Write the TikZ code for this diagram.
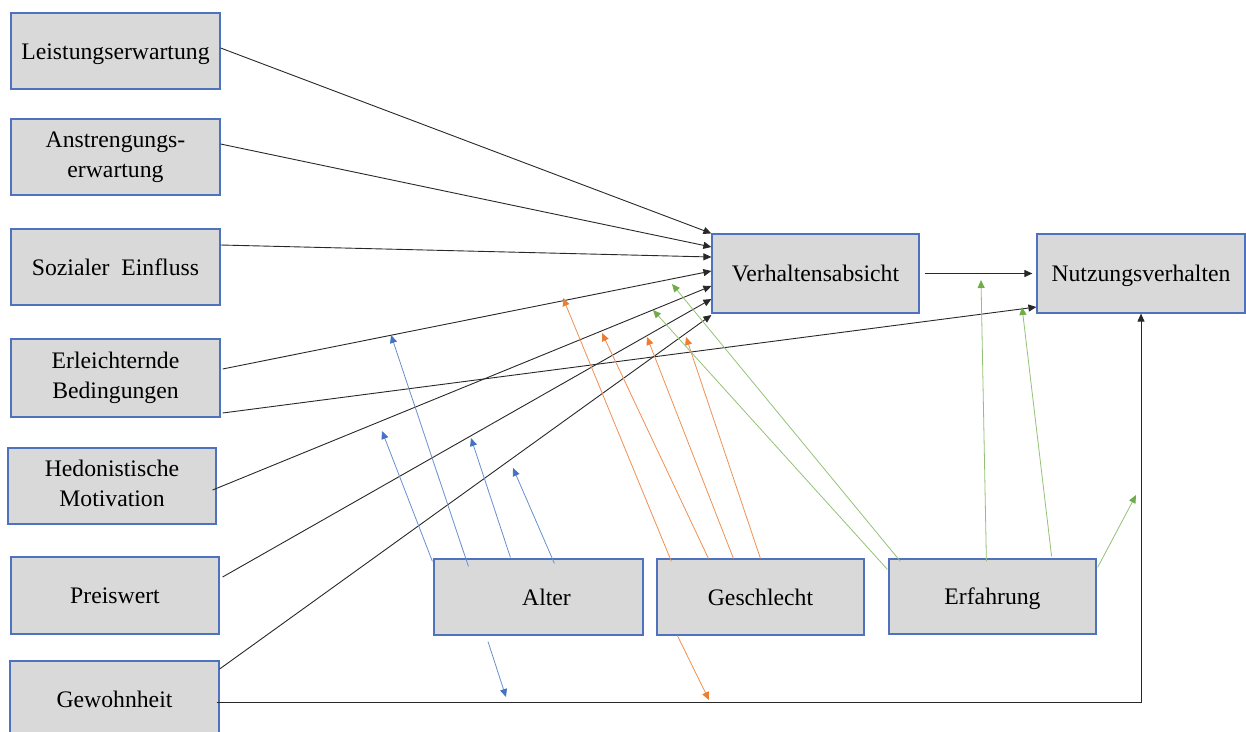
\documentclass[tikz,border=0pt]{standalone}
\usepackage{fontspec}
\setmainfont{Liberation Serif}
\usetikzlibrary{arrows.meta}
\definecolor{boxfill}{RGB}{217,217,217}
\definecolor{boxdraw}{RGB}{79,114,190}
\definecolor{cblue}{RGB}{68,114,196}
\definecolor{corange}{RGB}{237,125,49}
\definecolor{cgreen}{RGB}{112,173,71}
\definecolor{cblack}{RGB}{40,40,40}
\tikzset{
  box/.style={draw=boxdraw, fill=boxfill, line width=1.2pt, minimum width=209pt, minimum height=76pt,
    align=center, inner sep=0pt, font=\fontsize{23.7pt}{30pt}\selectfont, text height=21pt, text depth=5pt},
  twoline/.style={text height=46pt, text depth=5pt},
  conn/.style={draw=cblack, line width=0.9pt, -{Triangle[length=8pt,width=7pt]}},
  bluearr/.style={draw=cblue!80, line width=0.8pt, -{Triangle[length=8pt,width=7pt,fill=cblue,color=cblue]}},
  orangearr/.style={draw=corange!85, line width=0.8pt, -{Triangle[length=8pt,width=7pt,fill=corange,color=corange]}},
  greenarr/.style={draw=cgreen!75, line width=0.8pt, -{Triangle[length=8pt,width=7pt,fill=cgreen,color=cgreen]}},
}
\begin{document}
\begin{tikzpicture}[x=1pt,y=-1pt]
\useasboundingbox (0,0) rectangle (1246,731);
\clip (0,0) rectangle (1246,731);
% left column
\node[box] (le) at (115.5,51) {Leistungserwartung};
\node[box, twoline] (an) at (115.5,157) {Anstrengungs-\\erwartung};
\node[box] (so) at (115.5,267) {Sozialer\ \ Einfluss};
\node[box, twoline, minimum height=78pt] (er) at (115.5,378) {Erleichternde\\Bedingungen};
\node[box, twoline, minimum width=208pt] (he) at (112,486) {Hedonistische\\Motivation};
\node[box, minimum width=208pt, minimum height=77pt] (pr) at (115,595.5) {Preiswert};
\node[box] (gw) at (114.5,699) {Gewohnheit};
% right
\node[box, minimum width=207pt, minimum height=79pt] (va) at (815.5,273.5) {Verhaltensabsicht};
\node[box, minimum width=208pt, minimum height=79pt] (nv) at (1141,273.5) {Nutzungsverhalten};
% moderators
\node[box] (al) at (538.5,597) {\hspace*{16pt}Alter};
\node[box, minimum width=207pt] (ge) at (760.5,597) {Geschlecht};
\node[box, minimum width=207pt, minimum height=75pt] (ef) at (992.5,596.5) {Erfahrung};

% free ends of moderator arrows
\coordinate (b1) at (382,431);
\coordinate (b2) at (391,335);
\coordinate (b3) at (471,438);
\coordinate (b4) at (513,468);
\coordinate (b5) at (506,697);
\coordinate (o1) at (563,298);
\coordinate (o2) at (602,333);
\coordinate (o3) at (647,337);
\coordinate (o4) at (686,337);
\coordinate (o5) at (709,700);
\coordinate (g1) at (672,284);
\coordinate (g2) at (653,310);
\coordinate (g3) at (981,280);
\coordinate (g4) at (1022,307);
\coordinate (g5) at (1136,495);

% main black connectors
\draw[conn] ([yshift=3pt]le.east) -- (va.north west);
\draw[conn] ([yshift=13pt]an.east) -- ([yshift=26.5pt]va.west);
\draw[conn] ([yshift=22pt]so.east) -- ([yshift=16.5pt]va.west);
\draw[conn] ([xshift=2pt,yshift=9pt]er.east) -- ([yshift=2.5pt]va.west);
\draw[conn] ([xshift=2pt,yshift=-35pt]er.east) -- ([yshift=-33.5pt]nv.west);
\draw[conn] ([xshift=-4pt,yshift=-4pt]he.east) -- ([yshift=-12.5pt]va.west);
\draw[conn] ([xshift=3pt,yshift=18.5pt]pr.east) -- ([yshift=-25.5pt]va.west);
\draw[conn] ([yshift=30pt]gw.east) -- ([yshift=-41.5pt]va.west);
\draw[conn] ([xshift=-3pt,yshift=-3pt]gw.east) -| (nv.south);
\draw[conn] ([xshift=5pt]va.east) -- ([xshift=-4pt]nv.west);

% Alter (blue)
\draw[bluearr] ([xshift=-1pt,yshift=-3pt]al.north west) -- (b1);
\draw[bluearr] ([xshift=35pt,yshift=-8pt]al.north west) -- (b2);
\draw[bluearr] ([xshift=77pt,yshift=1pt]al.north west) -- (b3);
\draw[bluearr] ([xshift=121pt,yshift=-5pt]al.north west) -- (b4);
\draw[bluearr] ([xshift=-50.5pt,yshift=-6pt]al.south) -- (b5);
% Geschlecht (orange)
\draw[orangearr] ([xshift=15pt,yshift=-3pt]ge.north west) -- (o1);
\draw[orangearr] ([xshift=52pt]ge.north west) -- (o2);
\draw[orangearr] ([xshift=77pt]ge.north west) -- (o3);
\draw[orangearr] ([xshift=104pt]ge.north west) -- (o4);
\draw[orangearr] ([xshift=21pt]ge.south west) -- (o5);
% Erfahrung (green)
\draw[greenarr] ([xshift=12pt,yshift=-3pt]ef.north west) -- (g1);
\draw[greenarr] ([xshift=-1pt,yshift=-11pt]ef.north west) -- (g2);
\draw[greenarr] ([xshift=98pt,yshift=-3pt]ef.north west) -- (g3);
\draw[greenarr] ([xshift=-45pt,yshift=2pt]ef.north east) -- (g4);
\draw[greenarr] ([xshift=1pt,yshift=-9pt]ef.north east) -- (g5);
\end{tikzpicture}
\end{document}
